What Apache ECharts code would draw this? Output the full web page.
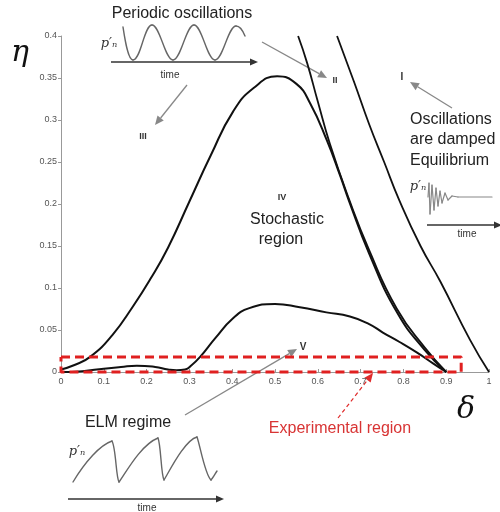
<!DOCTYPE html>
<html>
<head>
<meta charset="utf-8">
<script src="https://cdn.jsdelivr.net/npm/echarts@6/dist/echarts.min.js"></script>
<style>
  html, body { margin: 0; padding: 0; background: #fff; }
  #chart { width: 500px; height: 512px; }
</style>
</head>
<body>
<div id="chart"></div>
<script>
// Stability diagram in the (delta, eta) plane.
const xTickValues = [0, 0.1, 0.2, 0.3, 0.4, 0.5, 0.6, 0.7, 0.8, 0.9, 1];
const yTickValues = [0, 0.05, 0.1, 0.15, 0.2, 0.25, 0.3, 0.35, 0.4];

// Upper boundary of the stochastic region (IV)
const stochasticBoundary = [
  [0, 0.003], [0.03, 0.008], [0.068, 0.018], [0.12, 0.044], [0.168, 0.078],
  [0.208, 0.11], [0.25, 0.148], [0.3, 0.203], [0.35, 0.258], [0.402, 0.31],
  [0.45, 0.338], [0.505, 0.352], [0.55, 0.343], [0.582, 0.32], [0.621, 0.276],
  [0.652, 0.234], [0.672, 0.205], [0.72, 0.141], [0.785, 0.071], [0.85, 0.026],
  [0.9, 0]
];
// Boundary between regions II and IV
const boundaryII = [
  [0.554, 0.4], [0.575, 0.368], [0.6, 0.322], [0.628, 0.272], [0.672, 0.207],
  [0.72, 0.145], [0.785, 0.075], [0.85, 0.029], [0.9, 0]
];
// Boundary of the damped region (I)
const boundaryI = [
  [0.645, 0.4], [0.685, 0.345], [0.72, 0.295], [0.755, 0.25], [0.79, 0.205],
  [0.84, 0.15], [0.886, 0.108], [0.956, 0.038], [1.0, 0]
];
// Lower boundary enclosing the ELM regime (V)
const boundaryV = [
  [0, 0], [0.05, 0.001], [0.1, 0.004], [0.14, 0.006], [0.177, 0.0075],
  [0.22, 0.006], [0.25, 0.003], [0.27, 0.002], [0.29, 0.003], [0.305, 0.008],
  [0.325, 0.018], [0.36, 0.04], [0.402, 0.064], [0.44, 0.076], [0.5, 0.081],
  [0.558, 0.077], [0.62, 0.071], [0.675, 0.066], [0.72, 0.057], [0.752, 0.047],
  [0.79, 0.036], [0.832, 0.023], [0.87, 0.01], [0.9, 0]
];
// Experimental window
const experimentalDelta = [0, 0.935, 0.935, 0, 0];
const experimentalEta = [0.018, 0.018, 0, 0, 0.018];

const SANS = '"Liberation Sans", Arial, sans-serif';
const SERIF = '"DejaVu Serif", "Liberation Serif", serif';

function curve(data, width) {
  return {
    type: 'line', data: data, smooth: 0.5,
    symbol: 'none', clip: false, silent: true,
    lineStyle: { color: '#111', width: width }
  };
}

function text(str, x, y, opts) {
  opts = opts || {};
  return {
    type: 'text', silent: true,
    style: {
      text: str, x: x, y: y,
      fill: opts.fill || '#222',
      font: opts.font || ('16px ' + SANS),
      textAlign: opts.align || 'center',
      textVerticalAlign: 'middle'
    }
  };
}

function arrow(x1, y1, x2, y2, color, opts) {
  opts = opts || {};
  const L = opts.len || 9, W = opts.half || 4;
  const a = Math.atan2(y2 - y1, x2 - x1);
  const c = Math.cos(a), s = Math.sin(a);
  const bx = x2 - L * c, by = y2 - L * s;
  return [
    { type: 'line', silent: true,
      shape: { x1: x1, y1: y1, x2: bx, y2: by },
      style: { stroke: color, lineWidth: opts.width || 1.3, lineDash: opts.dash || null } },
    { type: 'polygon', silent: true,
      shape: { points: [[x2, y2], [bx - W * s, by + W * c], [bx + W * s, by - W * c]] },
      style: { fill: color } }
  ];
}

// Hand-drawn signal sketch: start point followed by cubic segments
// [c1x, c1y, c2x, c2y, x, y] or straight segments [x, y].
function sketch(start, segments, color, width) {
  const out = [];
  let px = start[0], py = start[1];
  const style = { stroke: color || '#666', lineWidth: width || 1.4, fill: null, lineCap: 'round' };
  segments.forEach(s => {
    if (s.length === 6) {
      out.push({ type: 'bezierCurve', silent: true,
        shape: { x1: px, y1: py, cpx1: s[0], cpy1: s[1], cpx2: s[2], cpy2: s[3], x2: s[4], y2: s[5] },
        style: style });
      px = s[4]; py = s[5];
    } else {
      out.push({ type: 'line', silent: true,
        shape: { x1: px, y1: py, x2: s[0], y2: s[1] }, style: style });
      px = s[0]; py = s[1];
    }
  });
  return out;
}

const pLabel = (x, y) => text('p\u2032\u2099', x, y, { font: 'italic 13px ' + SERIF, fill: '#333' });

const graphics = [].concat(
  // axis symbols
  [text('\u03b7', 20, 53, { font: 'italic 30px ' + SERIF, fill: '#111' }),
   text('\u03b4', 466, 410, { font: 'italic 30px ' + SERIF, fill: '#111' })],

  // periodic oscillations inset
  [text('Periodic oscillations', 182, 14),
   pLabel(109, 44),
   text('time', 170, 75, { font: '10px ' + SANS, fill: '#333' })],
  sketch([123, 27], [
    [125, 40, 128, 60, 133, 60], [141, 60, 144, 25, 152, 25], [160, 25, 165, 60, 173, 60],
    [181, 60, 186, 25, 194, 25], [202, 25, 207, 60, 215, 60], [223, 60, 228, 26, 236, 26],
    [240, 26, 243, 31, 245, 36]]),
  arrow(111, 62, 258, 62, '#333', { len: 8, half: 3.5, width: 1.3 }),
  arrow(187, 85, 155, 125, '#888'),
  arrow(262, 42, 327, 78, '#888'),

  // region labels
  [text('III', 143, 137, { font: 'bold 9px ' + SANS, fill: '#333' }),
   text('II', 335, 81, { font: 'bold 9px ' + SANS, fill: '#333' }),
   text('I', 402, 77, { font: 'bold 10px ' + SANS, fill: '#333' }),
   text('IV', 282, 198, { font: 'bold 9px ' + SANS, fill: '#333' }),
   text('V', 303, 347, { font: 'bold 10px ' + SANS, fill: '#333' }),
   text('Stochastic', 287, 220),
   text('region', 281, 240)],

  // damped oscillations inset
  [text('Oscillations', 410, 120, { align: 'left' }),
   text('are damped', 410, 140, { align: 'left' }),
   text('Equilibrium', 410, 161, { align: 'left' }),
   pLabel(418, 187),
   text('time', 467, 234, { font: '10px ' + SANS, fill: '#333' })],
  sketch([428, 197], [
    [429, 183], [430, 214], [432, 185], [434, 210], [436, 188], [438, 206], [440, 191],
    [442, 203], [445, 193], [448, 200], [452, 196], [458, 197], [492, 197]], '#888', 1.2),
  arrow(427, 225, 502, 225, '#333', { len: 8, half: 3.5, width: 1.3 }),
  arrow(452, 108, 410, 82, '#888'),

  // ELM regime inset
  [text('ELM regime', 128, 423),
   pLabel(77, 452),
   text('time', 147, 508, { font: '10px ' + SANS, fill: '#333' })],
  sketch([73, 482], [
    [85, 462, 100, 445, 112, 441], [116, 448, 116, 478, 119, 482],
    [124, 476, 140, 445, 158, 438], [161, 445, 161, 475, 164, 480],
    [170, 470, 185, 440, 197, 437], [200, 445, 205, 475, 211, 480],
    [213, 478, 215, 474, 217, 471]]),
  arrow(68, 499, 224, 499, '#333', { len: 8, half: 3.5, width: 1.3 }),
  arrow(185, 415, 297, 349, '#888'),

  // experimental window annotation
  [text('Experimental region', 340, 429, { fill: '#d83434' })],
  arrow(338, 418, 373, 373, '#e02a2a', { dash: [4, 3], width: 1.2, len: 9, half: 4 })
);

const chart = echarts.init(document.getElementById('chart'), null, { renderer: 'canvas' });
chart.setOption({
  animation: false,
  backgroundColor: '#fff',
  grid: { left: 61, right: 11, top: 36, bottom: 140 },
  xAxis: {
    type: 'value', min: xTickValues[0], max: xTickValues[xTickValues.length - 1], interval: 0.1,
    axisLine: { lineStyle: { color: '#999', width: 1 } },
    axisTick: { inside: true, length: 3, lineStyle: { color: '#999' } },
    axisLabel: { fontSize: 9, color: '#555', margin: 5, fontFamily: SANS,
      formatter: v => String(Math.round(v * 10) / 10) },
    splitLine: { show: false }
  },
  yAxis: {
    type: 'value', min: yTickValues[0], max: yTickValues[yTickValues.length - 1], interval: 0.05,
    axisLine: { show: true, lineStyle: { color: '#999', width: 1 } },
    axisTick: { show: true, length: 3, lineStyle: { color: '#999' } },
    axisLabel: { fontSize: 9, color: '#555', margin: 4, fontFamily: SANS,
      formatter: v => String(Math.round(v * 100) / 100) },
    splitLine: { show: false }
  },
  series: [
    curve(stochasticBoundary, 2),
    curve(boundaryII, 1.8),
    curve(boundaryI, 1.8),
    curve(boundaryV, 2),
    {
      type: 'line', symbol: 'none', clip: false, silent: true,
      data: experimentalDelta.map((d, i) => [d, experimentalEta[i]]),
      lineStyle: { color: '#e02020', width: 3, type: [9, 5] },
      z: 5
    }
  ],
  graphic: graphics
});
</script>
</body>
</html>
